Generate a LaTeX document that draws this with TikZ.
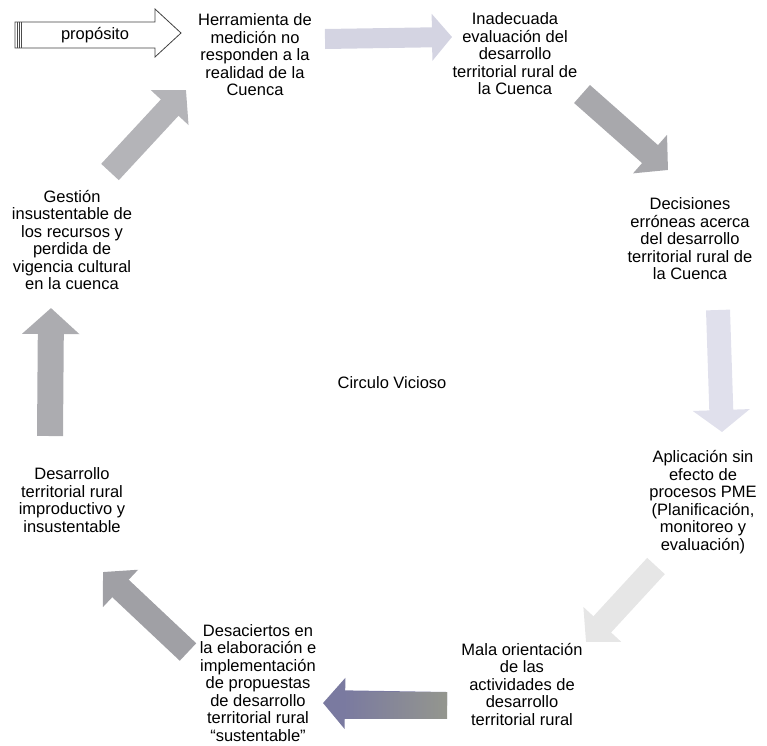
\documentclass[tikz,border=0pt]{standalone}
\usepackage{fontspec}
\setmainfont{Liberation Sans}
\usetikzlibrary{arrows.meta}

\definecolor{lav}{RGB}{212,212,226}
\definecolor{lavlight}{RGB}{224,224,236}
\definecolor{gA}{RGB}{168,168,172}
\definecolor{gB}{RGB}{160,160,165}
\definecolor{gC}{RGB}{172,172,176}
\definecolor{gD}{RGB}{180,180,184}
\definecolor{faint}{RGB}{230,230,230}
\definecolor{slate}{RGB}{122,122,160}
\definecolor{slatelight}{RGB}{148,150,142}

\tikzset{
  lbl/.style={align=center, font=\fontsize{16.5}{17.5}\selectfont, inner sep=0pt},
  blockarr/.style args={#1/#2/#3/#4}{line width=#1,
     -{Triangle[width=#2,length=#3]}, draw=#4, color=#4},
}

\begin{document}
\begin{tikzpicture}[x=1pt,y=-1pt]
\useasboundingbox (0,0) rectangle (767,745);

% --- statements around the cycle
\node[lbl] (herr) at (255,55) {Herramienta de\\medición no\\responden a la\\realidad de la\\Cuenca};
\node[lbl] (inad) at (515,54) {Inadecuada\\evaluación del\\desarrollo\\territorial rural de\\la Cuenca};
\node[lbl] (deci) at (690,239) {Decisiones\\erróneas acerca\\del desarrollo\\territorial rural de\\la Cuenca};
\node[lbl] (apli) at (703,502) {Aplicación sin\\efecto de\\procesos PME\\(Planificación,\\monitoreo y\\evaluación)};
\node[lbl] (mala) at (522,684) {Mala orientación\\de las\\actividades de\\desarrollo\\territorial rural};
\node[lbl] (desa) at (258,683) {Desaciertos en\\la elaboración e\\implementación\\de propuestas\\de desarrollo\\territorial rural\\``sustentable''};
\node[lbl] (desr) at (72,500) {Desarrollo\\territorial rural\\improductivo y\\insustentable};
\node[lbl] (gest) at (72,240) {Gestión\\insustentable de\\los recursos y\\perdida de\\vigencia cultural\\en la cuenca};
\node[lbl] (circ) at (392,383) {Circulo Vicioso};

% --- end points of the cycle arrows
\coordinate (a1s) at (325,39);  \coordinate (a1e) at (452,37);
\coordinate (a2s) at (582,94);  \coordinate (a2e) at (668,170);
\coordinate (a3s) at (718,310); \coordinate (a3e) at (722,432);
\coordinate (a4s) at (656,566); \coordinate (a4e) at (586,642);
\coordinate (a5s) at (447,705); \coordinate (a5e) at (323,703);
\coordinate (a5top) at (344,692); \coordinate (a5bot) at (447,718);
\coordinate (a6s) at (188,652); \coordinate (a6e) at (103,572);
\coordinate (a7s) at (50,436);  \coordinate (a7e) at (51,308);
\coordinate (a8s) at (110,172); \coordinate (a8e) at (186,90);

% --- cycle arrows
\draw[blockarr=20pt/46pt/20pt/lav] (a1s) -- (a1e);
\draw[blockarr=24pt/50pt/24pt/gA] (a2s) -- (a2e);
\draw[blockarr=24pt/56pt/22pt/lavlight] (a3s) -- (a3e);
\draw[blockarr=24pt/50pt/24pt/faint] (a4s) -- (a4e);
\draw[blockarr=26pt/50pt/22pt/slate] (a5s) -- (a5e);
\shade[left color=slate, right color=slatelight] (a5top) rectangle (a5bot);
\draw[blockarr=24pt/50pt/24pt/gB] (a6s) -- (a6e);
\draw[blockarr=26pt/56pt/26pt/gC] (a7s) -- (a7e);
\draw[blockarr=24pt/50pt/24pt/gD] (a8s) -- (a8e);

% --- purpose arrow
\node[inner sep=0pt, font=\fontsize{16.5}{17.5}\selectfont] (prop) at (95,35) {propósito};
\draw[line width=0.8pt, draw=black!75]
  (15,22) -- (155,22) -- (155,9) -- (181,33) -- (155,57) -- (155,48) -- (15,48) -- cycle;
\foreach \xx in {17,19,21}
  \draw[line width=0.6pt, draw=black!70] (\xx,22) -- (\xx,48);
\end{tikzpicture}
\end{document}
